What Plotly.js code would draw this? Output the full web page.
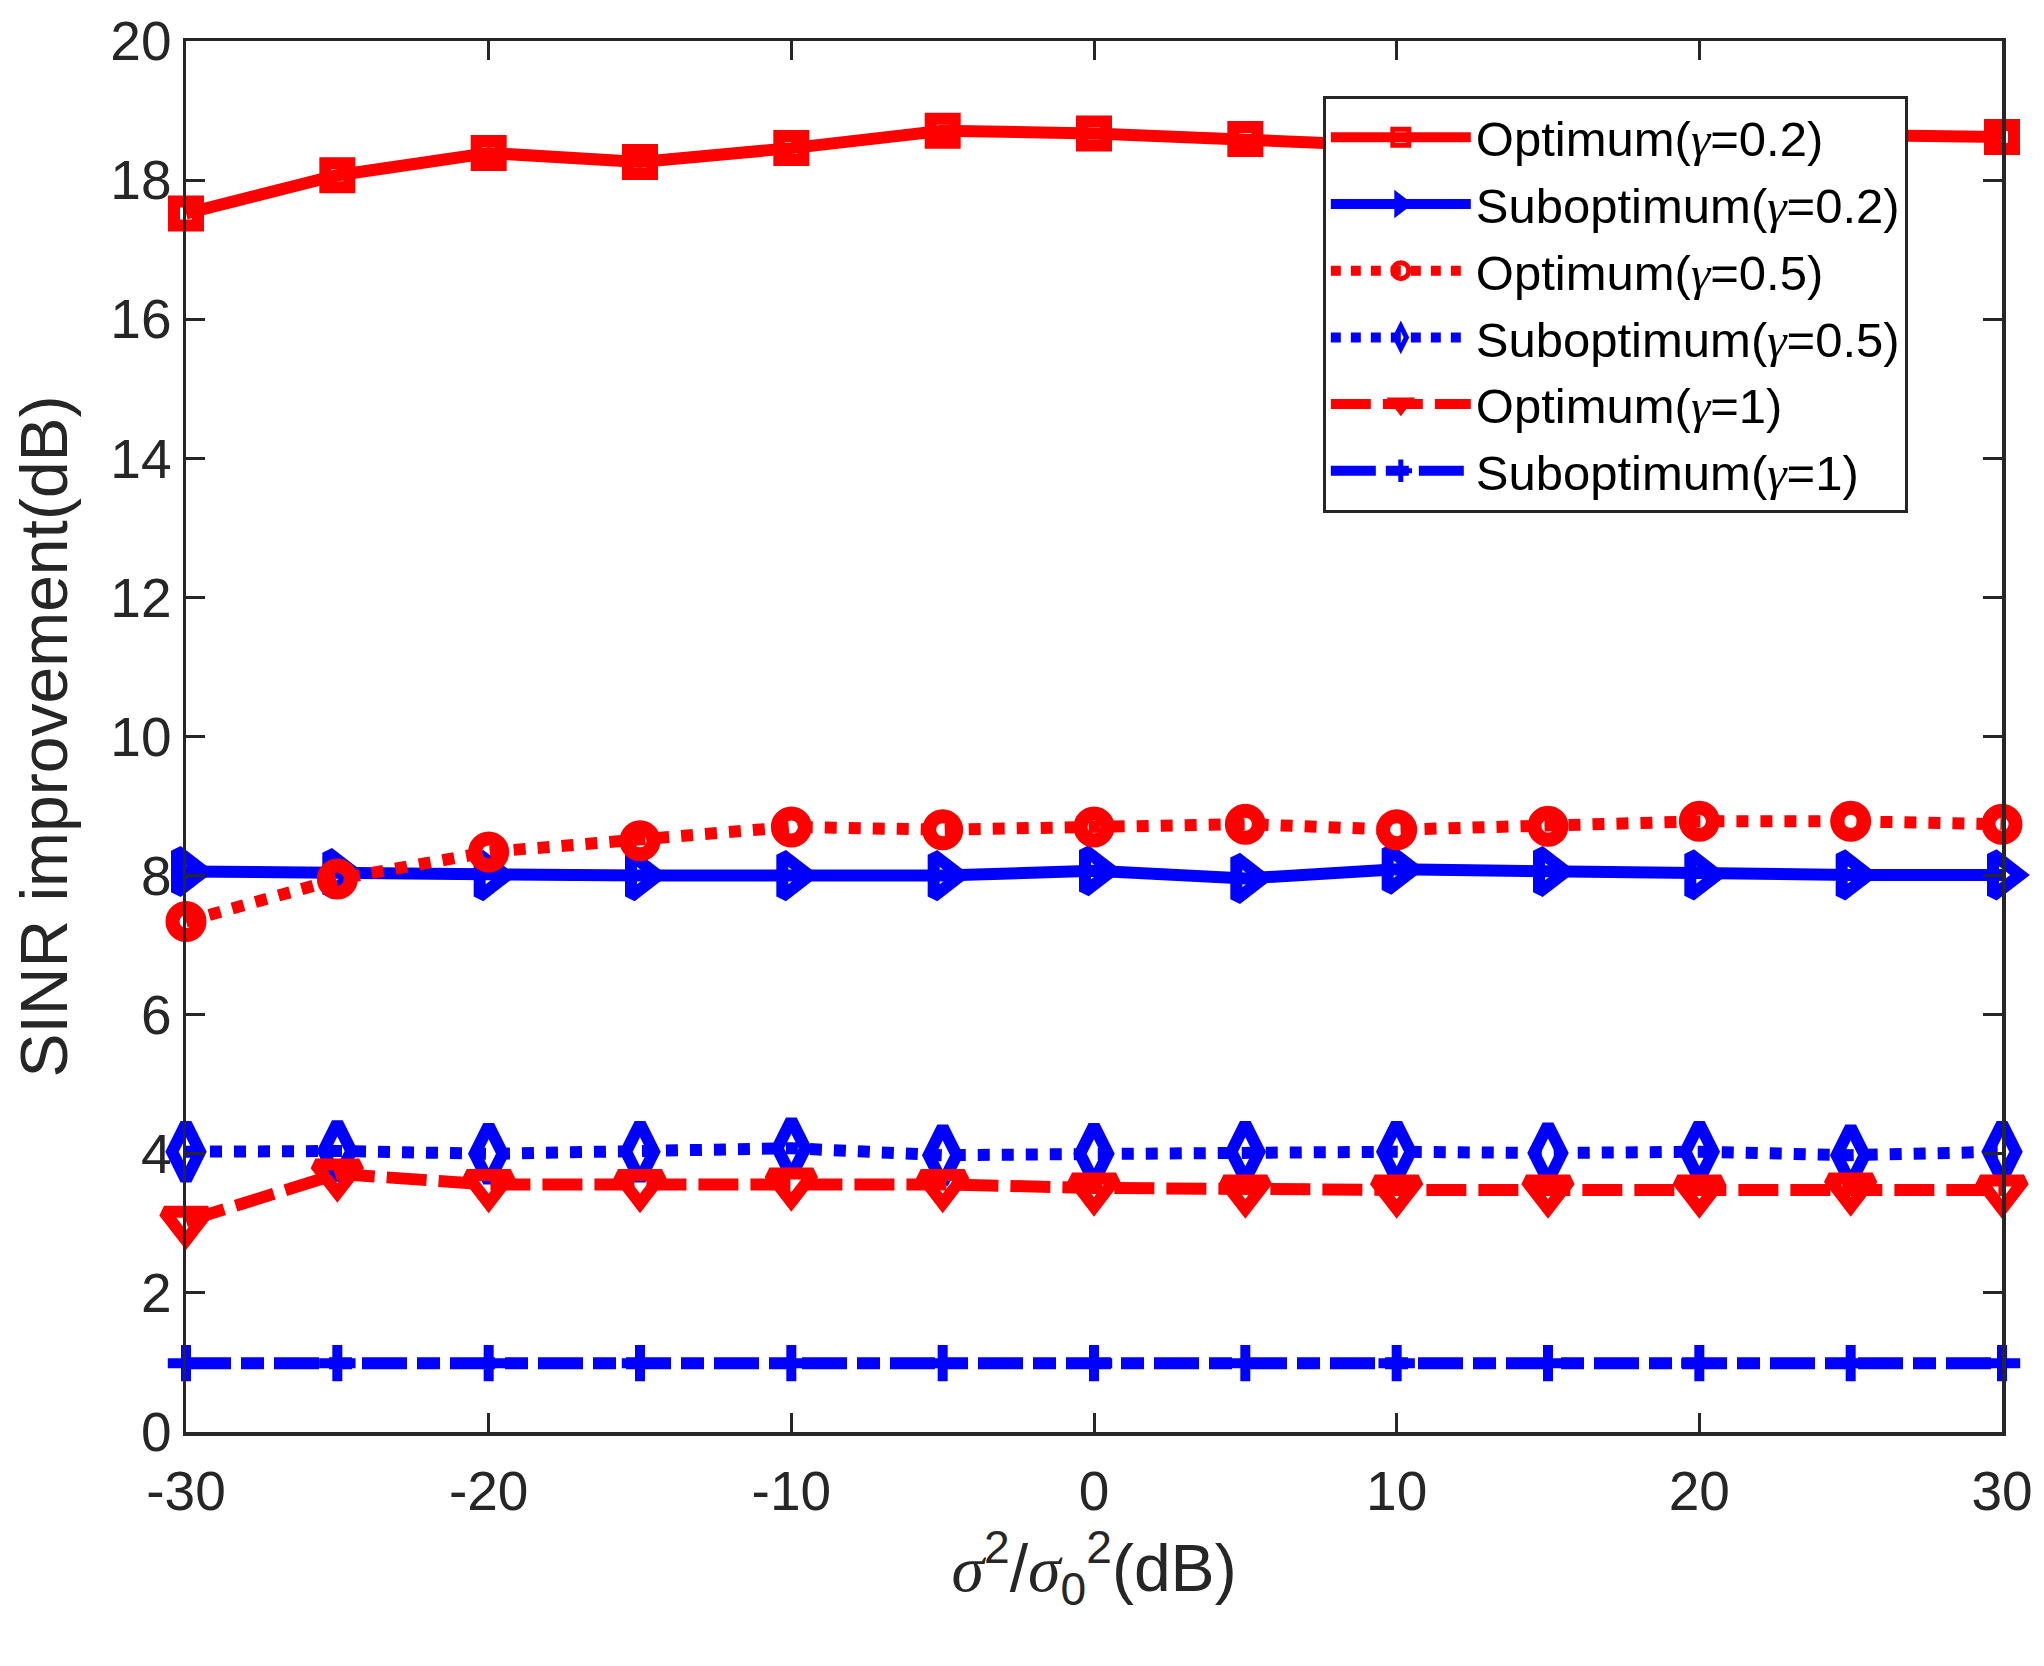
<!DOCTYPE html>
<html>
<head>
<meta charset="utf-8">
<script src="https://cdn.plot.ly/plotly-3.0.1.min.js"></script>
<style>html,body{margin:0;padding:0;background:#fff;}</style>
</head>
<body>
<div id="chart" style="width:2044px;height:1666px;"></div>
<script>
// sigma^2/sigma_0^2 in dB
var snr = [-30, -25, -20, -15, -10, -5, 0, 5, 10, 15, 20, 25, 30];

// SINR improvement (dB)
var optG02 = [17.52, 18.07, 18.39, 18.26, 18.46, 18.71, 18.67, 18.59, 18.49, 18.57, 18.61, 18.65, 18.62];
var subG02 = [8.06, 8.03, 8.00, 8.00, 8.00, 8.00, 8.07, 7.96, 8.09, 8.06, 8.01, 8.01, 8.01];
var optG05 = [7.34, 7.95, 8.34, 8.50, 8.70, 8.66, 8.70, 8.74, 8.66, 8.71, 8.78, 8.78, 8.74];
var subG05 = [4.03, 4.04, 4.00, 4.03, 4.08, 3.98, 4.00, 4.03, 4.03, 4.01, 4.03, 3.98, 4.03];
var optG1  = [3.03, 3.71, 3.56, 3.56, 3.58, 3.56, 3.51, 3.48, 3.48, 3.48, 3.48, 3.51, 3.48];
var subG1  = [0.99, 0.99, 0.99, 0.99, 0.99, 0.99, 0.99, 0.99, 0.99, 0.99, 0.99, 0.99, 0.99];

// x tick labels (plain hyphen, like the original)
var xTicks = [-30, -20, -10, 0, 10, 20, 30];
var xTickText = ['-30', '-20', '-10', '0', '10', '20', '30'];

var G = '<span style="font-family:\'Liberation Serif\',serif"><i>γ</i></span>';
var S = '<span style="font-family:\'Liberation Serif\',serif"><i>σ</i></span>';

var names = [
  'Optimum(' + G + '=0.2)',
  'Suboptimum(' + G + '=0.2)',
  'Optimum(' + G + '=0.5)',
  'Suboptimum(' + G + '=0.5)',
  'Optimum(' + G + '=1)',
  'Suboptimum(' + G + '=1)'
];

var RED = '#ff0000';
var BLUE = '#0000ff';
var FONT = 'Arial, "Liberation Sans", Helvetica, sans-serif';
var AXC = '#262626';

function makeTrace(y, name, color, dash, symbol, size, mlw) {
  return {
    x: snr,
    y: y,
    name: name,
    type: 'scatter',
    mode: 'lines+markers',
    cliponaxis: false,
    line: {color: color, width: 12, dash: dash},
    marker: {symbol: symbol, size: size, color: color,
             line: {color: color, width: mlw}}
  };
}

var data = [
  makeTrace(optG02, names[0], RED, 'solid', 'square-open', 24, 12),
  makeTrace(subG02, names[1], BLUE, 'solid', 'triangle-right-open', 36, 12),
  makeTrace(optG05, names[2], RED, 'dot', 'circle-open', 27, 14),
  makeTrace(subG05, names[3], BLUE, 'dot', 'diamond-tall-open', 40, 12),
  makeTrace(optG1, names[4], RED, '40px,12px', 'triangle-down-open', 38, 12),
  makeTrace(subG1, names[5], BLUE, '45px,10px,23px,10px', 'cross-thin-open', 26, 10)
];

var layout = {
  width: 2044,
  height: 1666,
  margin: {l: 186, r: 42, t: 41, b: 234},
  paper_bgcolor: '#ffffff',
  plot_bgcolor: '#ffffff',
  font: {family: FONT, color: AXC, size: 55},
  showlegend: true,
  legend: {
    x: 0.626, y: 0.9605, xanchor: 'left', yanchor: 'top',
    bgcolor: '#ffffff',
    bordercolor: AXC,
    borderwidth: 3,
    font: {family: FONT, size: 49, color: '#000000'},
    itemwidth: 140,
    tracegroupgap: 0
  },
  xaxis: {
    range: [-30, 30],
    tickmode: 'array', tickvals: xTicks, ticktext: xTickText,
    ticks: 'inside', ticklen: 19, tickwidth: 3, tickcolor: AXC,
    ticklabelstandoff: 8,
    showline: true, linewidth: 3.5, linecolor: AXC, mirror: 'ticks',
    showgrid: false, zeroline: false,
    tickfont: {family: FONT, size: 55, color: AXC},
    title: {text: S + '<sup>2</sup>/' + S + '<sub>0</sub><sup>2</sup>(dB)',
            font: {family: FONT, size: 66, color: AXC}, standoff: 24}
  },
  yaxis: {
    range: [0, 20],
    tick0: 0, dtick: 2,
    ticks: 'inside', ticklen: 19, tickwidth: 3, tickcolor: AXC,
    showline: true, linewidth: 3.5, linecolor: AXC, mirror: 'ticks',
    showgrid: false, zeroline: false,
    tickfont: {family: FONT, size: 55, color: AXC},
    title: {text: 'SINR improvement(dB)',
            font: {family: FONT, size: 66, color: AXC}, standoff: 22}
  }
};

Plotly.newPlot('chart', data, layout, {displayModeBar: false, staticPlot: true});
</script>
</body>
</html>
